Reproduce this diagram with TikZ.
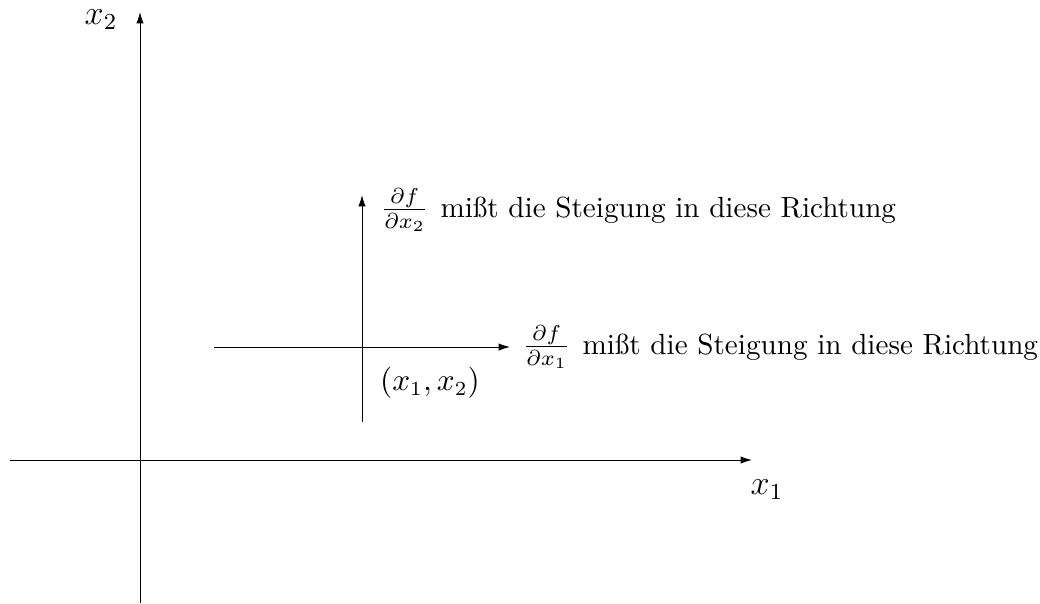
\documentclass[tikz,border=0pt]{standalone}
\usetikzlibrary{arrows.meta}
\newcommand{\pfrac}[1]{\scalebox{1.08}{$\frac{\partial f}{\partial x_{#1}}$}\hspace{0.8pt}}
\begin{document}
\begin{tikzpicture}[x=0.35pt,y=-0.35pt,
  ax/.style={line width=0.35pt,-{Latex[length=4pt,width=2.6pt]}},
  lbl/.style={inner sep=0pt},
  big/.style={lbl,font=\fontsize{11.8}{14}\selectfont},
  mid/.style={lbl,font=\fontsize{10.7}{13}\selectfont},
  txt/.style={lbl,anchor=west,font=\fontsize{10.2}{12}\selectfont}]
\useasboundingbox (0,0) rectangle (1040,603);
% main axes
\coordinate (yb) at (140,603);
\coordinate (yt) at (140,12);
\coordinate (xl) at (10,460);
\coordinate (xr) at (752,460);
\draw[ax] (yb) -- (yt);
\draw[ax] (xl) -- (xr);
\node[big] (lx2) at (101,20) {$x_2$};
\node[big] (lx1) at (767,490) {$x_1$};
% local directions
\coordinate (vb) at (362,422);
\coordinate (vt) at (362,195);
\coordinate (hl) at (214,347);
\coordinate (hr) at (510,347);
\draw[ax] (vb) -- (vt);
\draw[ax] (hl) -- (hr);
\node[mid] (pt) at (430,383) {$(x_1,x_2)$};
\node[txt] (d2) at (380,210) {\pfrac{2} miß{}t die Steigung in diese Richtung};
\node[txt] (d1) at (522,347) {\pfrac{1} miß{}t die Steigung in diese Richtung};
\end{tikzpicture}
\end{document}
